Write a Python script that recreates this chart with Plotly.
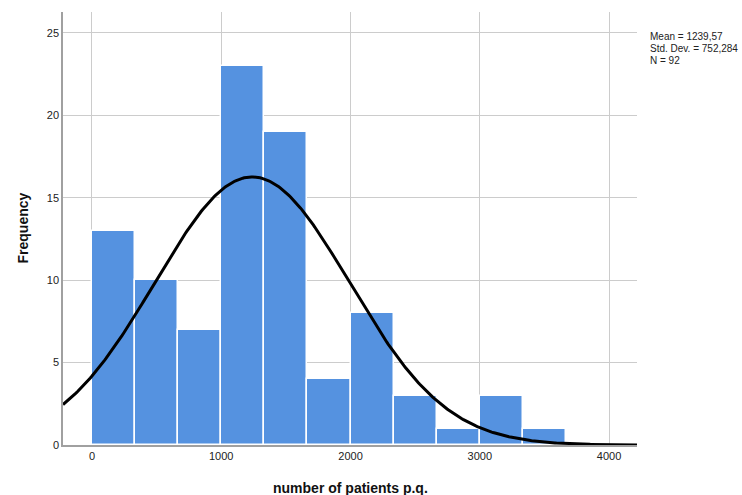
import numpy as np
import plotly.graph_objects as go

# Histogram data (bin width ~333.33)
bin_edges_start = [0, 333.33, 666.67, 1000, 1333.33, 1666.67, 2000, 2333.33, 2666.67, 3000, 3333.33]
counts = [13, 10, 7, 23, 19, 4, 8, 3, 1, 3, 1]
bin_width = 333.333
mean_val = 1239.57
std_val = 752.284
n_val = 92
x_ticks = [0, 1000, 2000, 3000, 4000]
y_ticks = [0, 5, 10, 15, 20, 25]
stats_lines = ["Mean = 1239,57", "Std. Dev. = 752,284", "N = 92"]

centers = [s + bin_width / 2 for s in bin_edges_start]

xc = np.linspace(-224, 4216, 400)
yc = n_val * bin_width / (std_val * np.sqrt(2 * np.pi)) * np.exp(-0.5 * ((xc - mean_val) / std_val) ** 2)

L, R, T, B = 63, 105, 12, 50
W, H = 742, 495
plot_w = W - L - R
plot_h = H - T - B

def px_x(px):
    return (px - L) / plot_w

def px_y(py):
    return (H - B - py) / plot_h

fig = go.Figure()
fig.add_trace(go.Bar(
    x=centers, y=counts, width=[bin_width] * len(counts),
    marker=dict(color="#5592e0", line=dict(color="white", width=1.5)),
    showlegend=False, hoverinfo="skip",
))
fig.add_trace(go.Scatter(
    x=xc, y=yc, mode="lines", line=dict(color="black", width=3),
    showlegend=False, hoverinfo="skip",
))

annotations = [
    dict(x=0.5, y=px_y(488), xref="paper", yref="paper", showarrow=False,
         text="<b>number of patients p.q.</b>", font=dict(size=14, color="#111111"),
         xanchor="center", yanchor="middle"),
    dict(x=px_x(22), y=0.5, xref="paper", yref="paper", showarrow=False,
         text="<b>Frequency</b>", font=dict(size=14, color="#111111"), textangle=-90,
         xanchor="center", yanchor="middle"),
]
for i, line in enumerate(stats_lines):
    annotations.append(dict(
        x=px_x(648), y=px_y(36 + 12.5 * i), xref="paper", yref="paper", showarrow=False,
        text=line, xanchor="left", yanchor="middle", align="left",
        font=dict(size=10, color="#222222"),
    ))

fig.update_layout(
    width=W, height=H,
    margin=dict(l=L, r=R, t=T, b=B, autoexpand=False),
    paper_bgcolor="white", plot_bgcolor="white",
    font=dict(family="Liberation Sans, Arial, sans-serif", color="#222222", size=11),
    bargap=0,
    xaxis=dict(
        range=[-224, 4216], tickvals=x_ticks, ticktext=[str(v) for v in x_ticks],
        showgrid=True, gridcolor="#cccccc", gridwidth=1,
        showline=True, linecolor="#a0a0a0", linewidth=1.5,
        zeroline=False, ticks="", ticklen=0, automargin=False,
        layer="below traces",
    ),
    yaxis=dict(
        range=[0, 26.27], tickvals=y_ticks, ticktext=[str(v) for v in y_ticks],
        showgrid=True, gridcolor="#cccccc", gridwidth=1,
        showline=True, linecolor="#a0a0a0", linewidth=1.5,
        zeroline=False, ticks="", ticklen=0, automargin=False,
    ),
    annotations=annotations,
)

fig.write_html("out.html")
